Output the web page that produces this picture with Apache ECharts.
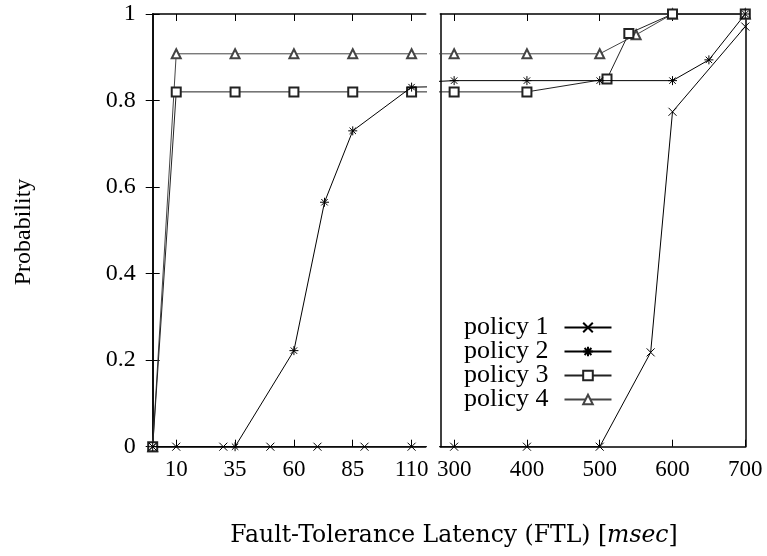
<!DOCTYPE html>
<html>
<head>
<meta charset="utf-8">
<script src="https://cdn.jsdelivr.net/npm/echarts@6/dist/echarts.min.js"></script>
<style>
  html, body { margin: 0; padding: 0; background: #fff; }
  #main { width: 767px; height: 556px; }
</style>
</head>
<body>
<div id="main"></div>
<script>
// data, [FTL msec, probability]
var policy1 = [[0, 0], [10, 0], [30, 0], [50, 0], [70, 0], [90, 0], [110, 0],
               [300, 0], [400, 0], [500, 0], [570, 0.218], [600, 0.774], [700, 0.971]];
var policy2 = [[0, 0], [35, 0], [60, 0.222], [73, 0.565], [85, 0.73], [110, 0.831],
               [300, 0.846], [400, 0.846], [500, 0.846], [600, 0.846], [650, 0.894], [700, 1]];
var policy3 = [[0, 0], [10, 0.82], [35, 0.82], [60, 0.82], [85, 0.82], [110, 0.82],
               [300, 0.82], [400, 0.82], [510, 0.85], [540, 0.955], [600, 1], [700, 1]];
var policy4 = [[0, 0], [10, 0.908], [35, 0.908], [60, 0.908], [85, 0.908], [110, 0.908],
               [300, 0.908], [400, 0.908], [500, 0.908], [550, 0.952], [600, 1], [700, 1]];

var leftTicks = [10, 35, 60, 85, 110];
var rightTicks = [300, 400, 500, 600, 700];
var names = ['policy 1', 'policy 2', 'policy 3', 'policy 4'];

var serif = '"Liberation Serif", "Times New Roman", serif';
var crossPath = 'path://M0,0L10,10M0,10L10,0';
var starPath = 'path://M0,0L10,10M0,10L10,0M5,-2L5,12M-2,5L12,5';

var chart = echarts.init(document.getElementById('main'));

function xAxisFor(grid, min, max, ticks, top) {
    return {
        type: 'value',
        gridIndex: grid,
        position: top ? 'top' : 'bottom',
        min: min,
        max: max,
        axisLine: { show: true, onZero: false, lineStyle: { color: '#000', width: 1.5 } },
        axisTick: { show: true, inside: true, length: 7, customValues: ticks, lineStyle: { color: '#000', width: 1 } },
        axisLabel: {
            show: !top,
            customValues: ticks,
            margin: 12,
            color: '#000',
            fontFamily: serif,
            fontSize: 23
        },
        splitLine: { show: false }
    };
}

function yAxisFor(grid, right, labels) {
    return {
        type: 'value',
        gridIndex: grid,
        position: right ? 'right' : 'left',
        min: 0,
        max: 1,
        interval: 0.2,
        axisLine: { show: true, lineStyle: { color: '#000', width: 1.5 } },
        axisTick: { show: labels || right, inside: true, length: 7, lineStyle: { color: '#000', width: 1 } },
        axisLabel: { show: labels, margin: 17, color: '#000', fontFamily: serif, fontSize: 24 },
        splitLine: { show: false }
    };
}

var styles = [
    { symbol: crossPath, size: 8, color: '#000' },
    { symbol: starPath, size: 9, color: '#000' },
    { symbol: 'emptyRect', size: 9, color: '#222' },
    { symbol: 'emptyTriangle', size: 9, color: '#444' }
];
var allData = [policy1, policy2, policy3, policy4];

var series = [];
[0, 1].forEach(function (g) {
    allData.forEach(function (d, i) {
        series.push({
            name: names[i],
            type: 'line',
            xAxisIndex: g * 2,
            yAxisIndex: g * 2,
            data: d,
            clip: true,
            symbol: styles[i].symbol,
            symbolSize: styles[i].size,
            showAllSymbol: true,
            lineStyle: { color: styles[i].color, width: 1 },
            itemStyle: { color: styles[i].color, borderColor: styles[i].color, borderWidth: 1 },
            emphasis: { disabled: true },
            z: 4 - i
        });
    });
});

chart.setOption({
    animation: false,
    grid: [
        { left: 152.7, top: 14, width: 273, height: 432.7 },
        { left: 440.3, top: 14, width: 305, height: 432.7 }
    ],
    xAxis: [
        xAxisFor(0, 0, 116, leftTicks, false),
        xAxisFor(0, 0, 116, leftTicks, true),
        xAxisFor(1, 281, 700, rightTicks, false),
        xAxisFor(1, 281, 700, rightTicks.slice(0, 4), true)
    ],
    yAxis: [
        yAxisFor(0, false, true),
        yAxisFor(0, true, false),
        yAxisFor(1, false, false),
        Object.assign(yAxisFor(1, true, false), { axisTick: { show: false } })
    ],
    legend: {
        data: names,
        left: 459,
        top: 309.5,
        orient: 'vertical',
        align: 'right',
        itemWidth: 47,
        itemHeight: 12,
        itemGap: -2,
        textStyle: { color: '#000', fontFamily: serif, fontSize: 26, padding: [0, 11, 0, 0] }
    },
    graphic: [
        {
            type: 'text',
            x: 24,
            y: 232,
            rotation: Math.PI / 2,
            style: {
                text: 'Probability',
                font: '24px ' + serif,
                fill: '#000',
                textAlign: 'center',
                textVerticalAlign: 'middle'
            }
        },
        {
            type: 'text',
            x: 454,
            y: 536,
            style: {
                text: '{a|Fault-Tolerance Latency (FTL) [}{b|msec}{a|]}',
                textAlign: 'center',
                textVerticalAlign: 'middle',
                rich: {
                    a: { fontFamily: '"DejaVu Serif", serif', fontSize: 23.5, fill: '#000' },
                    b: { fontFamily: '"DejaVu Serif", serif', fontSize: 23.5, fontStyle: 'italic', fill: '#000' }
                }
            }
        }
    ],
    series: series
});
</script>
</body>
</html>
